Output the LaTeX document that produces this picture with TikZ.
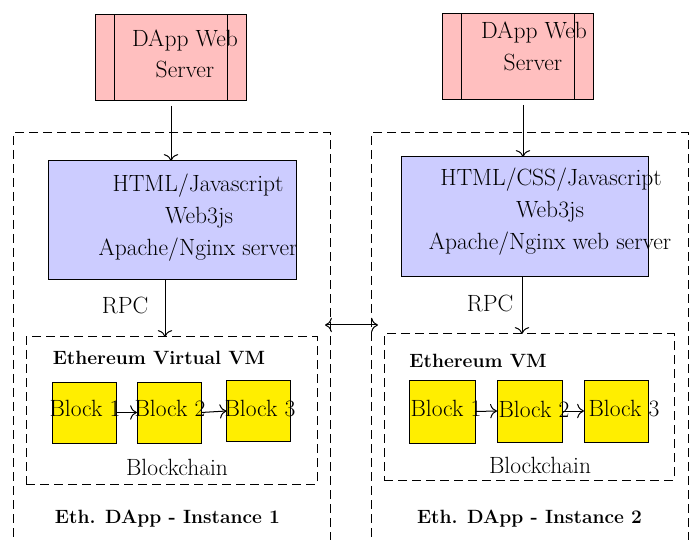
\documentclass[tikz,border=0pt]{standalone}
\usetikzlibrary{calc,arrows.meta}
\definecolor{srvpink}{RGB}{255,191,191}
\definecolor{webblue}{RGB}{204,204,255}
\definecolor{blkyellow}{RGB}{255,238,0}
\begin{document}
\begin{tikzpicture}[x=1pt,y=-1pt,
  every node/.style={inner sep=0pt,outer sep=0pt},
  txt/.style={anchor=base,font=\fontsize{23.5}{28}\selectfont},
  btxt/.style={anchor=base,font=\fontsize{19.2}{23}\selectfont\bfseries},
  srv/.style={draw,fill=srvpink,line width=1pt,minimum width=151pt,minimum height=86pt},
  web/.style={draw,fill=webblue,line width=1pt},
  blk/.style={draw,fill=blkyellow,line width=1pt,minimum width=64pt,minimum height=61pt},
  dbox/.style={draw,line width=1pt,dash pattern=on 9pt off 5pt},
  conn/.style={-{To[scale=1.8]},line width=1pt},
]
\useasboundingbox (0,0) rectangle (694,540);
\clip (0,0) rectangle (694,540);
% outer dashed boxes
\node[dbox,minimum width=317pt,minimum height=427pt] (o1) at (171.5,346.5) {};
\node[dbox,minimum width=317pt,minimum height=427pt] (o2) at (529.5,346.5) {};
% inner dashed boxes
\node[dbox,minimum width=291pt,minimum height=147pt] (e1) at (171.5,410.5) {};
\node[dbox,minimum width=290pt,minimum height=146pt] (e2) at (529,407) {};
% servers
\node[srv] (s1) at (170.5,58) {};
\node[srv] (s2) at (517.5,57) {};
\draw[line width=1pt] ([xshift=19pt]s1.north west) -- ([xshift=19pt]s1.south west);
\draw[line width=1pt] ([xshift=-19pt]s1.north east) -- ([xshift=-19pt]s1.south east);
\draw[line width=1pt] ([xshift=19pt]s2.north west) -- ([xshift=19pt]s2.south west);
\draw[line width=1pt] ([xshift=-19pt]s2.north east) -- ([xshift=-19pt]s2.south east);
\node[txt] (s1a) at (185,47) {DApp Web};
\node[txt] (s1b) at (185,78) {Server};
\node[txt] (s2a) at (534,39) {DApp Web};
\node[txt] (s2b) at (533,71) {Server};
% web boxes
\node[web,minimum width=248pt,minimum height=119pt] (b1) at (172,220.5) {};
\node[web,minimum width=247pt,minimum height=120pt] (b2) at (524.5,217) {};
\node[txt] (b1a) at (198,192) {HTML/Javascript};
\node[txt] (b1b) at (199,224) {Web3js};
\node[txt] (b1c) at (198,256) {Apache/Nginx server};
\node[txt] (b2a) at (551,186) {HTML/CSS/Javascript};
\node[txt] (b2b) at (550,218) {Web3js};
\node[txt] (b2c) at (550,250) {Apache/Nginx web server};
% server -> web
\draw[conn,shorten <=5pt] ([xshift=-1pt]b1.north |- s1.south) -- ([xshift=-1pt]b1.north);
\draw[conn,shorten <=5pt] ([xshift=-1.5pt]b2.north |- s2.south) -- ([xshift=-1.5pt]b2.north);
% RPC
\draw[conn] ([xshift=-7pt]b1.south) -- ([xshift=-7pt]b1.south |- e1.north);
\draw[conn] ([xshift=-2.5pt]b2.south) -- ([xshift=-2.5pt]b2.south |- e2.north);
\node[txt] (r1) at (125,313) {RPC};
\node[txt] (r2) at (490,312) {RPC};
% EVM titles
\node[btxt] (t1) at (159,364) {Ethereum Virtual VM};
\node[btxt] (t2) at (478,367) {Ethereum VM};
% blocks
\node[blk] (k11) at (84,412.5) {};
\node[blk] (k12) at (169,412.5) {};
\node[blk] (k13) at (258.5,411) {};
\node[blk,minimum width=66pt,minimum height=63pt] (k21) at (442,411.5) {};
\node[blk,minimum width=65pt,minimum height=62pt] (k22) at (529.5,411) {};
\node[blk,minimum width=64pt,minimum height=62pt] (k23) at (616,411) {};
\node[txt] (k11t) at (85,416) {Block 1};
\node[txt] (k12t) at (170,416) {Block 2};
\node[txt] (k13t) at (260,416) {Block 3};
\node[txt] (k21t) at (446,416) {Block 1};
\node[txt] (k22t) at (534,417) {Block 2};
\node[txt] (k23t) at (624,416) {Block 3};
\draw[conn] (k11.east) -- (k12.west);
\draw[conn] (k12.east) -- (k13.west);
\draw[conn] (k21.east) -- (k22.west);
\draw[conn] (k22.east) -- (k23.west);
% blockchain labels
\node[txt] (bc1) at (177,475) {Blockchain};
\node[txt] (bc2) at (540,473) {Blockchain};
% instance labels
\node[btxt] (i1) at (167.5,523) {Eth. DApp - Instance 1};
\node[btxt] (i2) at (529.5,523) {Eth. DApp - Instance 2};
% double arrow between instances
\coordinate (da) at ([xshift=-5pt]o1.east |- 0,325);
\coordinate (db) at ([xshift=7pt]o2.west |- 0,325);
\draw[{To[scale=1.8]}-{To[scale=1.8]},line width=1pt] (da) -- (db);
\end{tikzpicture}
\end{document}
